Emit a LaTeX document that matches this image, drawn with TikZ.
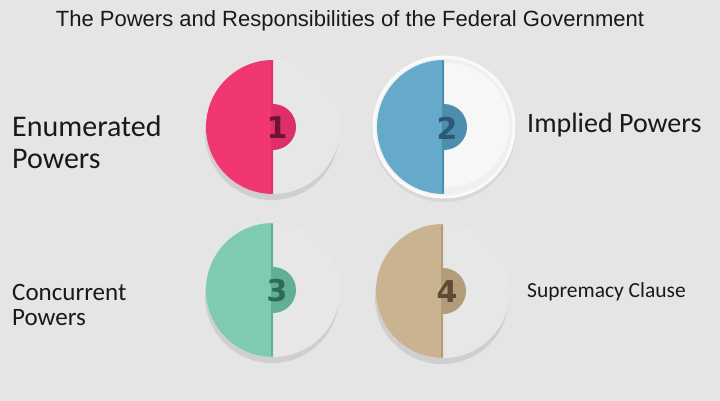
\documentclass[tikz,border=0pt]{standalone}
\usepackage{fontspec}
\setmainfont{Carlito}
\newfontfamily\titlefont{Liberation Sans}
\newfontfamily\digitfont{DejaVu Sans}
\definecolor{bgc}{HTML}{E5E5E5}
\definecolor{shadowc}{HTML}{CFCFCF}
\definecolor{halfw}{HTML}{E7E7E7}
\definecolor{pinkA}{HTML}{F0376F}
\definecolor{pinkB}{HTML}{DE3068}
\definecolor{pinkD}{HTML}{6E1430}
\definecolor{blueA}{HTML}{66AACB}
\definecolor{blueB}{HTML}{4E8EAD}
\definecolor{blueD}{HTML}{2A5A78}
\definecolor{greenA}{HTML}{7ECBB0}
\definecolor{greenB}{HTML}{62B094}
\definecolor{greenD}{HTML}{2E6B55}
\definecolor{tanA}{HTML}{C9B391}
\definecolor{tanB}{HTML}{B29C7A}
\definecolor{tanD}{HTML}{5E4A35}
\tikzset{
  digit/.style={font=\digitfont\bfseries\fontsize{30}{30}\selectfont, inner sep=0pt},
  lbl/.style={anchor=base west, inner sep=0pt, text=black!90},
}
\newcommand\mybadge[6]{% #1 pos, #2 main, #3 bump, #4 digit colour, #5 digit, #6 name
\begin{scope}[shift={#1}]
  \fill[shadowc] (-1,6) circle (67);
  \fill[halfw] (0,0) circle (67);
  \fill[#2] (0,-67) arc (270:90:67) -- cycle;
  \draw[#3, line width=1.5pt] (-0.8,-66) -- (-0.8,66);
  \fill[#3] (0,-23) arc (270:450:23) -- cycle;
  \node[digit, text=#4] (#6) at (4,1) {#5};
\end{scope}}
\begin{document}
\begin{tikzpicture}[x=1pt,y=-1pt]
\fill[bgc] (0,0) rectangle (720,401);
\useasboundingbox (0,0) rectangle (720,401);

\node[anchor=base, inner sep=0pt, font=\titlefont\fontsize{22}{22}\selectfont, text=black!90] (title) at (350,27) {The Powers and Responsibilities of the Federal Government};

\mybadge{(273,127)}{pinkA}{pinkB}{pinkD}{1}{d1}
\mybadge{(273,290)}{greenA}{greenB}{greenD}{3}{d3}
\mybadge{(443,291)}{tanA}{tanB}{tanD}{4}{d4}

% badge 2 with white rim
\begin{scope}[shift={(444,127)}]
  \fill[shadowc!60!bgc] (0,3) circle (72);
  \fill[white!98!black] (0,0) circle (71.5);
  \fill[white!94!black] (0,0) circle (68.5);
  \fill[white!97!black] (3,-2) circle (62);
  \fill[blueA] (0,-67) arc (270:90:67) -- cycle;
  \draw[blueB, line width=1.5pt] (-0.8,-66) -- (-0.8,66);
  \fill[blueB] (0,-23) arc (270:450:23) -- cycle;
  \node[digit, text=blueD] (d2) at (3,1) {2};
\end{scope}

\node[lbl, font=\fontsize{30}{30}\selectfont] (enum1) at (12,137) {Enumerated};
\node[lbl, font=\fontsize{30}{30}\selectfont] (enum2) at (12,168) {Powers};
\node[lbl, font=\fontsize{28}{28}\selectfont] (impl) at (527,133) {Implied Powers};
\node[lbl, font=\fontsize{25}{25}\selectfont] (conc1) at (12,300) {Concurrent};
\node[lbl, font=\fontsize{25}{25}\selectfont] (conc2) at (12,325) {Powers};
\node[lbl, font=\fontsize{21.5}{21.5}\selectfont] (supr) at (527,297) {Supremacy Clause};
\end{tikzpicture}
\end{document}
